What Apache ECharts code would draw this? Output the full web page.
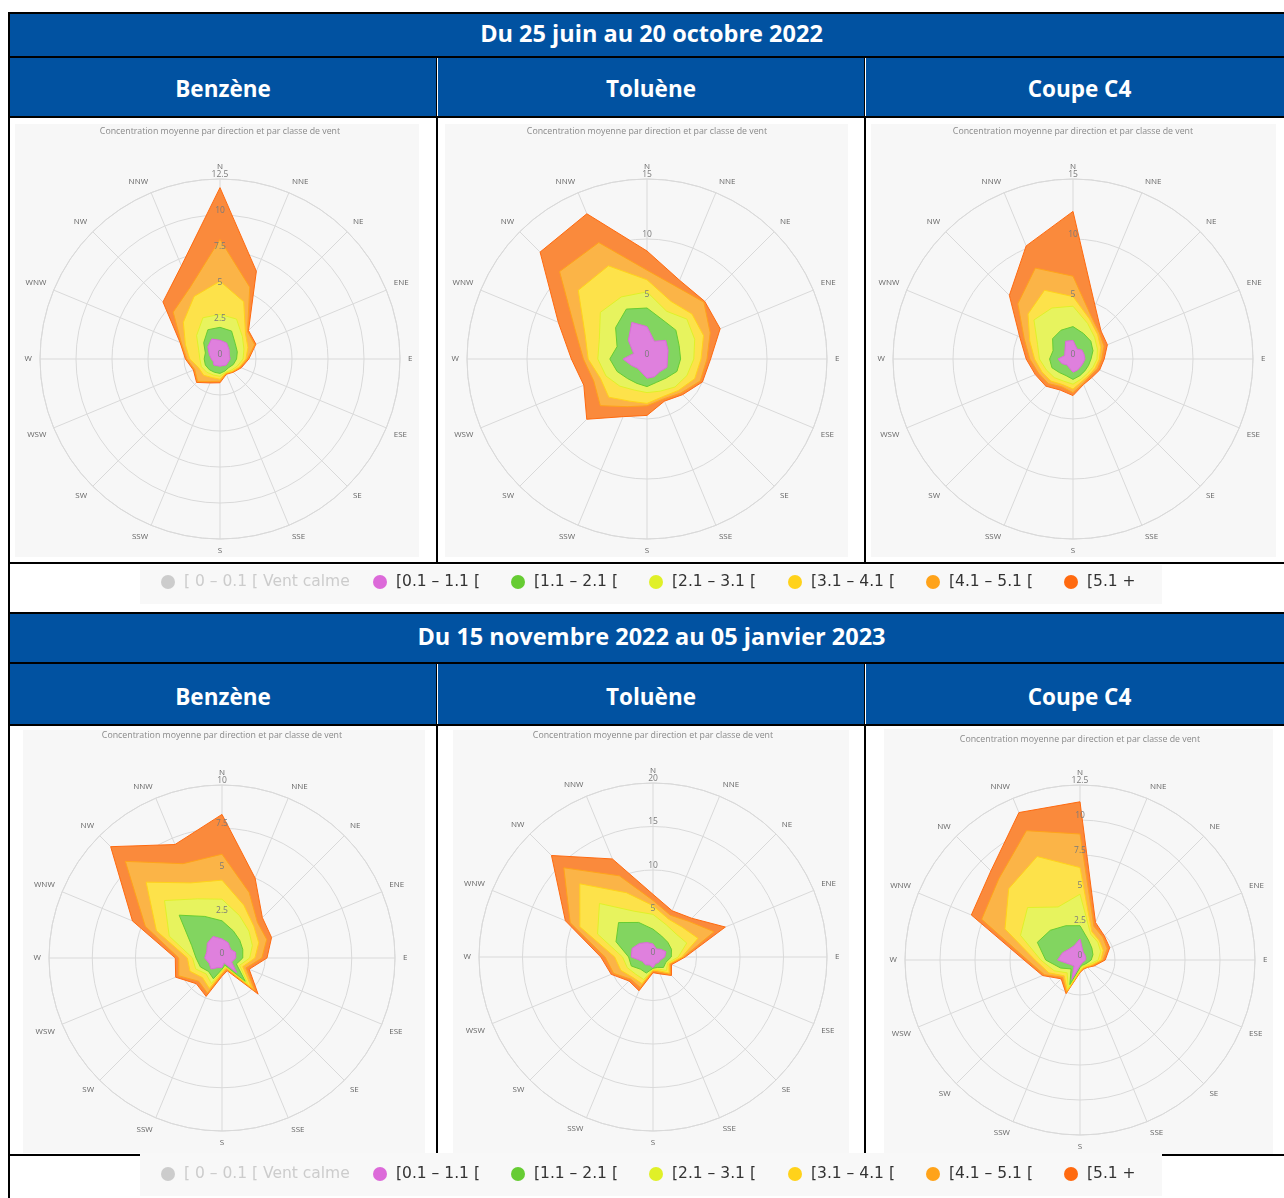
<!DOCTYPE html>
<html lang="fr">
<head>
<meta charset="utf-8">
<title>Concentration moyenne par direction et par classe de vent</title>
<script src="https://cdn.jsdelivr.net/npm/echarts@6/dist/echarts.min.js"></script>
<style>
  html, body { margin: 0; padding: 0; background: #fff; width: 1284px; height: 1198px; overflow: hidden; }
  #page { position: relative; width: 1284px; height: 1198px; overflow: hidden; font-family: 'Open Sans', sans-serif; }
  .blk { position: absolute; background: #000; }
  .wht { position: absolute; background: #fff; }
  .blue { position: absolute; background: #0152a1; color: #fff; font-weight: 700; font-size: 22.5px;
          display: flex; align-items: center; justify-content: center; white-space: nowrap; box-sizing: border-box; }
  .blue.period { font-size: 23.5px; padding-bottom: 4px; }
  .panel { position: absolute; background: #f7f7f7; }
  .legbg { position: absolute; background: #f8f8f8; }
  #chart { position: absolute; left: 0; top: 0; width: 1284px; height: 1198px; }
</style>
</head>
<body>
<div id="page">
  <!-- période 1 : en-têtes -->
  <div class="blue period" style="left:10px;top:14px;width:1283px;height:42px;">Du 25 juin au 20 octobre 2022</div>
  <div class="blue" style="left:10px;top:58px;width:426px;height:58px;padding-top:2px;">Benzène</div>
  <div class="blue" style="left:438px;top:58px;width:426px;height:58px;padding-top:2px;">Toluène</div>
  <div class="blue" style="left:866px;top:58px;width:427px;height:58px;padding-top:2px;">Coupe C4</div>
  <!-- période 2 : en-têtes -->
  <div class="blue period" style="left:10px;top:614px;width:1283px;height:48px;">Du 15 novembre 2022 au 05 janvier 2023</div>
  <div class="blue" style="left:10px;top:664px;width:426px;height:60px;padding-top:4px;">Benzène</div>
  <div class="blue" style="left:438px;top:664px;width:426px;height:60px;padding-top:4px;">Toluène</div>
  <div class="blue" style="left:866px;top:664px;width:427px;height:60px;padding-top:4px;">Coupe C4</div>

  <!-- fonds des graphiques -->
  <div class="panel" style="left:15px;top:124px;width:404px;height:433px;"></div>
  <div class="panel" style="left:445px;top:124px;width:403px;height:433px;"></div>
  <div class="panel" style="left:871px;top:124px;width:405px;height:433px;"></div>
  <div class="panel" style="left:23px;top:730px;width:402px;height:423px;"></div>
  <div class="panel" style="left:453px;top:730px;width:396px;height:423px;"></div>
  <div class="panel" style="left:884px;top:729px;width:389px;height:425px;"></div>

  <!-- bordures du tableau -->
  <div class="blk" style="left:8px;top:12px;width:1276px;height:2px;"></div>
  <div class="blk" style="left:8px;top:12px;width:2px;height:1186px;"></div>
  <div class="blk" style="left:8px;top:56px;width:1276px;height:2px;"></div>
  <div class="blk" style="left:8px;top:116px;width:1276px;height:2px;"></div>
  <div class="blk" style="left:436px;top:58px;width:1px;height:58px;"></div>
  <div class="wht" style="left:437px;top:58px;width:1px;height:58px;"></div>
  <div class="blk" style="left:864px;top:58px;width:1px;height:58px;"></div>
  <div class="wht" style="left:865px;top:58px;width:1px;height:58px;"></div>
  <div class="blk" style="left:436px;top:118px;width:2px;height:444px;"></div>
  <div class="blk" style="left:864px;top:118px;width:2px;height:444px;"></div>
  <div class="blk" style="left:8px;top:562px;width:1276px;height:2px;"></div>
  <div class="blk" style="left:8px;top:612px;width:1276px;height:2px;"></div>
  <div class="blk" style="left:8px;top:662px;width:1276px;height:2px;"></div>
  <div class="blk" style="left:436px;top:664px;width:1px;height:60px;"></div>
  <div class="wht" style="left:437px;top:664px;width:1px;height:60px;"></div>
  <div class="blk" style="left:864px;top:664px;width:1px;height:60px;"></div>
  <div class="wht" style="left:865px;top:664px;width:1px;height:60px;"></div>
  <div class="blk" style="left:8px;top:724px;width:1276px;height:2px;"></div>
  <div class="blk" style="left:436px;top:726px;width:2px;height:428px;"></div>
  <div class="blk" style="left:864px;top:726px;width:2px;height:428px;"></div>
  <div class="blk" style="left:8px;top:1154px;width:1276px;height:2px;"></div>

  <!-- fonds des légendes -->
  <div class="legbg" style="left:140px;top:565px;width:1022px;height:39px;"></div>
  <div class="legbg" style="left:140px;top:1153px;width:1022px;height:43px;"></div>

  <div id="chart"></div>
</div>
<script>
// Secteurs de vent, dans le sens horaire depuis le nord
const directions = ['N', 'NNE', 'NE', 'ENE', 'E', 'ESE', 'SE', 'SSE', 'S', 'SSW', 'SW', 'WSW', 'W', 'WNW', 'NW', 'NNW'];

// Classes de vitesse de vent (m/s)
const classNames = ['[ 0 – 0.1 [ Vent calme', '[0.1 – 1.1 [', '[1.1 – 2.1 [', '[2.1 – 3.1 [', '[3.1 – 4.1 [', '[4.1 – 5.1 [', '[5.1 +'];

// Concentration moyenne (µg/m³) par secteur, contribution de chaque classe de vent

// Benzène, 25 juin – 20 octobre 2022
const benzeneEte_c1 = [1.3, 1.2, 0.9, 0.7, 0.7, 0.6, 0.6, 0.5, 0.5, 0.5, 0.6, 0.5, 0.6, 0.8, 1.2, 1.5];
const benzeneEte_c2 = [0.9, 0.9, 0.6, 0.6, 0.45, 0.4, 0.25, 0.4, 0.5, 0.5, 0.45, 0.6, 0.5, 0.3, 0.4, 0.7];
const benzeneEte_c3 = [0.9, 0.9, 0.7, 0.5, 0.45, 0.3, 0.25, 0.1, 0.2, 0.2, 0.25, 0.3, 0.3, 0.5, 0.7, 0.9];
const benzeneEte_c4 = [2.3, 1.3, 0.3, 0.3, 0.2, 0.15, 0.1, 0.05, 0.2, 0.2, 0.3, 0.2, 0.7, 1.0, 1.3, 1.6];
const benzeneEte_c5 = [2.9, 1.1, 0.2, 0.5, 0.1, 0.05, 0.05, 0.05, 0.15, 0.3, 0.6, 0.3, 0.2, 0.3, 1.0, 0.7];
const benzeneEte_c6 = [3.6, 1.2, 0.1, 0.1, 0.1, 0.1, 0.05, 0.05, 0.1, 0.1, 0.1, 0.1, 0.1, 0.1, 1.0, 1.6];

// Toluène, 25 juin – 20 octobre 2022
const tolueneEte_c1 = [2.7, 1.6, 2.2, 1.9, 1.7, 1.8, 1.5, 1.6, 1.6, 1.2, 1.1, 1.4, 2.0, 1.2, 2.2, 3.3];
const tolueneEte_c2 = [1.55, 1.9, 1.2, 1.0, 1.1, 0.9, 0.75, 0.5, 0.7, 1.0, 1.2, 1.3, 1.1, 1.5, 1.5, 1.2];
const tolueneEte_c3 = [1.35, 0.8, 1.3, 1.4, 1.1, 0.9, 1.05, 0.8, 0.5, 0.6, 0.9, 1.0, 1.0, 1.6, 1.8, 1.1];
const tolueneEte_c4 = [1.0, 0.9, 0.6, 0.8, 0.6, 0.7, 0.4, 0.5, 0.9, 1.0, 1.3, 0.5, 0.8, 1.3, 2.6, 2.8];
const tolueneEte_c5 = [0.8, 1.3, 1.4, 0.6, 0.5, 0.5, 0.3, 0.2, 0.2, 0.5, 1.0, 0.6, 0.4, 0.9, 2.2, 2.1];
const tolueneEte_c6 = [1.6, 0.6, 0.1, 0.9, 0.3, 0.2, 0.2, 0.2, 0.8, 0.9, 1.6, 0.9, 1.0, 1.5, 2.3, 2.6];

// Coupe C4, 25 juin – 20 octobre 2022
const coupeC4Ete_c1 = [1.55, 0.9, 1.05, 1.0, 1.0, 0.9, 0.9, 1.0, 1.1, 0.8, 0.7, 1.0, 1.25, 0.75, 0.95, 1.6];
const coupeC4Ete_c2 = [1.15, 1.4, 1.05, 0.8, 0.5, 0.5, 0.5, 0.5, 0.6, 0.7, 0.9, 0.9, 0.7, 1.05, 1.45, 1.0];
const coupeC4Ete_c3 = [1.7, 0.9, 0.45, 0.4, 0.5, 0.4, 0.3, 0.3, 0.4, 0.5, 0.6, 0.5, 0.85, 1.4, 2.2, 2.0];
const coupeC4Ete_c4 = [0.8, 0.4, 0.35, 0.3, 0.2, 0.2, 0.2, 0.2, 0.4, 0.3, 0.4, 0.4, 0.4, 0.7, 0.7, 1.6];
const coupeC4Ete_c5 = [1.7, 0.3, 0.2, 0.3, 0.2, 0.2, 0.1, 0.2, 0.3, 0.2, 0.3, 0.3, 0.4, 0.5, 1.2, 2.0];
const coupeC4Ete_c6 = [5.4, 0.9, 0.2, 0.3, 0.2, 0.2, 0.2, 0.1, 0.25, 0.3, 0.3, 0.3, 0.3, 0.4, 1.0, 2.0];

// Benzène, 15 novembre 2022 – 05 janvier 2023
const benzeneHiver_c1 = [1.1, 0.95, 0.7, 0.85, 0.8, 0.6, 1.2, 0.3, 0.55, 0.6, 0.9, 0.8, 1.0, 0.95, 1.2, 1.35];
const benzeneHiver_c2 = [1.05, 0.75, 0.75, 0.45, 0.4, 0.3, 0.7, 0.15, 0.1, 0.7, 0.2, 0.55, 0.5, 0.95, 2.3, 1.25];
const benzeneHiver_c3 = [1.25, 0.95, 0.75, 0.6, 0.4, 0.2, 0.2, 0.1, 0.1, 0.3, 0.2, 0.3, 0.2, 1.4, 1.2, 1.1];
const benzeneHiver_c4 = [1.1, 0.65, 0.4, 0.4, 0.3, 0.2, 0.3, 0.05, 0.1, 0.3, 0.3, 0.35, 0.3, 0.8, 1.5, 1.0];
const benzeneHiver_c5 = [1.5, 0.8, 0.3, 0.5, 0.4, 0.2, 0.3, 0.1, 0.1, 0.3, 0.3, 0.7, 0.5, 0.7, 1.7, 1.2];
const benzeneHiver_c6 = [2.3, 0.9, 0.4, 0.3, 0.3, 0.2, 0.25, 0.1, 0.1, 0.2, 0.2, 0.2, 0.2, 0.8, 1.2, 1.2];

// Toluène, 15 novembre 2022 – 05 janvier 2023
const tolueneHiver_c1 = [1.5, 1.0, 1.25, 1.6, 1.35, 0.9, 0.9, 0.8, 1.2, 1.0, 1.25, 1.3, 2.5, 2.6, 2.2, 1.8];
const tolueneHiver_c2 = [1.7, 1.6, 1.15, 0.7, 0.75, 0.7, 0.8, 0.5, 0.1, 1.0, 0.75, 1.4, 0.3, 2.0, 3.4, 2.5];
const tolueneHiver_c3 = [1.7, 1.4, 1.35, 1.9, 0.8, 0.2, 0.5, 0.2, 0.1, 0.8, 0.8, 0.5, 0.7, 2.3, 3.1, 1.4];
const tolueneHiver_c4 = [1.0, 0.7, 1.05, 1.4, 0.4, 0.2, 0.4, 0.2, 0.1, 0.5, 0.5, 0.8, 0.9, 2.2, 3.2, 2.3];
const tolueneHiver_c5 = [0.6, 0.5, 1.0, 2.0, 0.2, 0.1, 0.2, 0.2, 0.1, 0.5, 0.3, 0.9, 1.1, 1.2, 2.6, 2.1];
const tolueneHiver_c6 = [0.7, 0.55, 0.5, 1.4, 0.2, 0.2, 0.2, 0.2, 0.2, 0.4, 0.3, 0.3, 0.5, 0.6, 2.0, 2.1];

// Coupe C4, 15 novembre 2022 – 05 janvier 2023
const coupeC4Hiver_c1 = [1.5, 0.6, 0.5, 0.45, 0.4, 0.3, 0.25, 0.25, 0.4, 1.5, 0.6, 0.8, 1.6, 1.35, 1.1, 1.1];
const coupeC4Hiver_c2 = [0.95, 0.95, 0.7, 0.55, 0.4, 0.25, 0.2, 0.15, 0.15, 0.4, 0.3, 0.7, 0.85, 1.95, 1.9, 1.55];
const coupeC4Hiver_c3 = [2.25, 0.45, 0.6, 0.6, 0.5, 0.2, 0.1, 0.1, 0.15, 0.3, 0.4, 0.5, 0.35, 1.3, 2.3, 1.45];
const coupeC4Hiver_c4 = [1.9, 0.2, 0.15, 0.2, 0.2, 0.15, 0.1, 0.1, 0.1, 0.15, 0.3, 0.4, 0.4, 1.2, 1.9, 3.9];
const coupeC4Hiver_c5 = [2.4, 0.4, 0.35, 0.3, 0.15, 0.1, 0.05, 0.05, 0.05, 0.15, 0.15, 0.35, 0.55, 1.8, 1.0, 2.0];
const coupeC4Hiver_c6 = [2.3, 0.3, 0.15, 0.2, 0.15, 0.1, 0.05, 0.05, 0.05, 0.1, 0.15, 0.15, 0.25, 0.8, 0.8, 1.4];

// Échelle radiale de chaque rose (maximum et pas des graduations)
const radiusMax  = [12.5, 15, 15, 10, 20, 12.5];
const radiusStep = [2.5, 5, 5, 2.5, 5, 2.5];

const roses = [
  [benzeneEte_c1, benzeneEte_c2, benzeneEte_c3, benzeneEte_c4, benzeneEte_c5, benzeneEte_c6],
  [tolueneEte_c1, tolueneEte_c2, tolueneEte_c3, tolueneEte_c4, tolueneEte_c5, tolueneEte_c6],
  [coupeC4Ete_c1, coupeC4Ete_c2, coupeC4Ete_c3, coupeC4Ete_c4, coupeC4Ete_c5, coupeC4Ete_c6],
  [benzeneHiver_c1, benzeneHiver_c2, benzeneHiver_c3, benzeneHiver_c4, benzeneHiver_c5, benzeneHiver_c6],
  [tolueneHiver_c1, tolueneHiver_c2, tolueneHiver_c3, tolueneHiver_c4, tolueneHiver_c5, tolueneHiver_c6],
  [coupeC4Hiver_c1, coupeC4Hiver_c2, coupeC4Hiver_c3, coupeC4Hiver_c4, coupeC4Hiver_c5, coupeC4Hiver_c6]
];

// Styles
const classColors = ['#c8c8c8', '#dc6ad9', '#66cc33', '#e0f028', '#ffd21a', '#ffa31a', '#ff6a10'];
const areaColors  = ['#e6e6e6', '#df80dd', '#82d560', '#e7f35e', '#fde24a', '#fbb447', '#fa8a3c'];
const FONT = "'Open Sans', sans-serif";

// Emplacement des roses : centre, rayon, position du sous-titre
const frames = [
  { cx: 220,  cy: 359, r: 180, ty: 127 },
  { cx: 647,  cy: 359, r: 180, ty: 127 },
  { cx: 1073, cy: 359, r: 180, ty: 127 },
  { cx: 222,  cy: 958, r: 173, ty: 731 },
  { cx: 653,  cy: 957, r: 174, ty: 731 },
  { cx: 1080, cy: 960, r: 175, ty: 735 }
];

// Totaux cumulés par secteur : chaque classe s'empile sur les précédentes
function stackClasses(classes) {
  const totals = [];
  let run = directions.map(() => 0);
  classes.forEach(vals => {
    run = run.map((s, i) => +(s + vals[i]).toFixed(3));
    totals.push(run);
  });
  return totals;
}

const polar = [], angleAxis = [], radiusAxis = [], title = [], series = [];

frames.forEach((f, i) => {
  // repère principal (cercles, rayons, secteurs)
  polar.push({ center: [f.cx, f.cy], radius: f.r });
  angleAxis.push({
    polarIndex: i, type: 'value', min: 0, max: 360, interval: 22.5,
    startAngle: 90, clockwise: true, z: 0,
    axisLine: { show: true, lineStyle: { color: '#d9d9d9', width: 1 } },
    axisTick: { show: false },
    splitLine: { show: true, lineStyle: { color: '#d9d9d9', width: 1 } },
    axisLabel: {
      margin: 8, color: '#666', fontSize: 8, fontFamily: FONT,
      formatter: v => directions[Math.round(v / 22.5) % 16]
    }
  });
  radiusAxis.push({
    polarIndex: i, type: 'value', min: 0, max: radiusMax[i], interval: radiusStep[i], z: 0,
    axisLine: { show: false }, axisTick: { show: false }, axisLabel: { show: false },
    splitLine: { show: true, lineStyle: { color: '#d9d9d9', width: 1 } }
  });
  title.push({
    text: 'Concentration moyenne par direction et par classe de vent',
    left: f.cx, top: f.ty, textAlign: 'center', padding: 0,
    textStyle: { fontSize: 8.8, color: '#8a8a8a', fontWeight: 'normal', fontFamily: FONT }
  });

  // aires empilées, de la plus grande à la plus petite
  const totals = stackClasses(roses[i]);
  for (let k = totals.length - 1; k >= 0; k--) {
    const cls = k + 1;
    const pts = directions.map((d, j) => [totals[k][j], j * 22.5]);
    pts.push([totals[k][0], 360]);
    series.push({
      type: 'line', name: classNames[cls], coordinateSystem: 'polar', polarIndex: i,
      data: pts, symbol: 'none', showSymbol: false, smooth: false, silent: true,
      z: 2, animation: false,
      itemStyle: { color: classColors[cls] },
      lineStyle: { color: classColors[cls], width: 1 },
      areaStyle: { color: areaColors[cls], opacity: 1 },
      emphasis: { disabled: true }
    });
  }
});

// graduations radiales, dessinées par-dessus les aires
frames.forEach((f, i) => {
  polar.push({ center: [f.cx, f.cy], radius: f.r });
  angleAxis.push({ polarIndex: 6 + i, type: 'value', min: 0, max: 360, startAngle: 90, show: false });
  radiusAxis.push({
    polarIndex: 6 + i, type: 'value', min: 0, max: radiusMax[i], interval: radiusStep[i], z: 10,
    axisLine: { show: false }, axisTick: { show: false }, splitLine: { show: false },
    axisLabel: {
      show: true, margin: 0, align: 'center', verticalAlign: 'bottom',
      color: '#7a7a7a', fontSize: 8.5, fontFamily: FONT
    }
  });
});

// classe « vent calme » (masquée)
series.push({
  type: 'line', name: classNames[0], coordinateSystem: 'polar', polarIndex: 0,
  data: [], itemStyle: { color: classColors[0] }, silent: true
});

// légendes : un élément par classe, sous chaque période
const legendX = [161, 373, 511, 649, 788, 926, 1064];
const legendY = [574, 1166];
const legend = [];
legendY.forEach(y => {
  classNames.forEach((name, k) => {
    legend.push({
      left: legendX[k], top: y, padding: 0, icon: 'circle', itemWidth: 14, itemHeight: 14,
      itemGap: 0, data: [name], selectedMode: true,
      selected: { [classNames[0]]: false },
      inactiveColor: '#cccccc',
      textStyle: { fontSize: 15.5, color: '#333', fontFamily: "'DejaVu Sans', sans-serif", padding: [0, 0, 0, 4] }
    });
  });
});

const chart = echarts.init(document.getElementById('chart'), null, { renderer: 'canvas' });
chart.setOption({
  animation: false,
  backgroundColor: 'transparent',
  title, polar, angleAxis, radiusAxis, legend, series
});
</script>
</body>
</html>
